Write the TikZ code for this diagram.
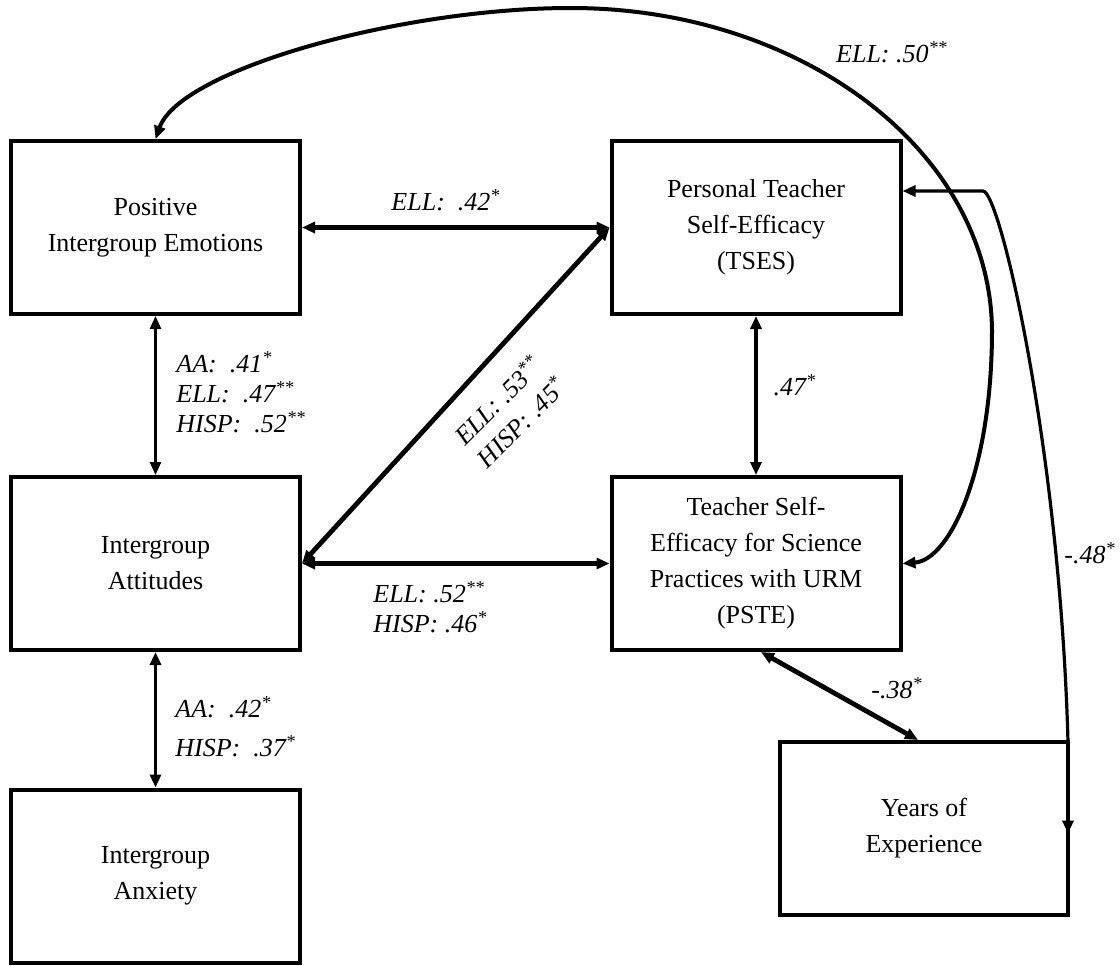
\documentclass[tikz,border=0pt]{standalone}
\usepackage{fontspec}
\setmainfont{Liberation Serif}
\usetikzlibrary{arrows.meta,calc}
\begin{document}
\begin{tikzpicture}[x=0.5pt,y=-0.5pt,
  box/.style={draw,line width=2pt,minimum width=144.5pt,minimum height=86.5pt,
    align=center,inner sep=0pt,font=\fontsize{13}{18}\selectfont},
  lbl/.style={inner sep=0pt,font=\fontsize{13}{15}\selectfont\itshape},
  both/.style={arrows={Triangle[length=6.5pt,width=5.5pt]-Triangle[length=6.5pt,width=5.5pt]}},
  thinlink/.style={both,line width=1.3pt},
  midlink/.style={both,line width=1.6pt},
  thicklink/.style={both,line width=2.2pt}]
\useasboundingbox (0,0) rectangle (1120,965);

% constructs
\node[box] (pie)  at (155.5,227.5) {Positive\\Intergroup Emotions};
\node[box] (tses) at (756,227.5)   {Personal Teacher\\Self-Efficacy\\(TSES)};
\node[box] (ia)   at (155.5,563.5) {Intergroup\\Attitudes};
\node[box] (pste) at (756,563.5)   {Teacher Self-\\Efficacy for Science\\Practices with URM\\(PSTE)};
\node[box] (anx)  at (155.5,876)   {Intergroup\\Anxiety};
\node[box,minimum width=144pt] (yoe) at (924,828.5) {Years of\\Experience};

% waypoints of the curved links
\coordinate (arcTop)   at (571,8);
\coordinate (arcRight) at (992,330);
\coordinate (bendA)    at (983,191);

% straight correlations
\draw[thinlink]  (pie.south) -- (ia.north);
\draw[thicklink] (pie.east) -- (tses.west);
\draw[thicklink] (ia.east) -- (pste.west);
\draw[midlink]   (tses.south) -- (pste.north);
\draw[midlink]   (ia.south) -- (anx.north);
\draw[thicklink,line width=2.4pt] (ia.east) -- (tses.west);
\draw[thicklink,line width=2.4pt] ($(pste.south)+(5,0)$) -- ($(yoe.north)+(-6,0)$);

% long arc from PSTE back to positive emotions
\draw[thicklink,line width=2pt] (pie.north) .. controls (180,70) and (400,8) .. (arcTop)
  .. controls (800,8) and (990,150) .. (arcRight)
  .. controls (992,470) and (950,560) .. (pste.east);

% TSES to years of experience
\draw[midlink] ($(tses.east)+(0,-36.5)$) -- (bendA)
  .. controls (1000,191) and (1060,450) .. ($(yoe.north east)+(-2,2)$)
  -- ($(yoe.east)+(-2,5)$);

% coefficients
\node[lbl] (l50) at (892,52) {ELL: .50\textsuperscript{**}};
\node[lbl] (l42) at (446,200) {ELL:\ \ .42\textsuperscript{*}};
\node[lbl,anchor=west,align=left] (l41) at (176,392)
  {AA:\ \ .41\textsuperscript{*}\\ELL:\ \ .47\textsuperscript{**}\\HISP:\ \ .52\textsuperscript{**}};
\node[lbl,rotate=45,anchor=west,align=left,font=\fontsize{13}{16}\selectfont\itshape] (l53) at (469,451)
  {ELL: .53\textsuperscript{**}\\HISP: .45\textsuperscript{*}};
\node[lbl] (l47) at (795,385) {.47\textsuperscript{*}};
\node[lbl,anchor=west,align=left] (l52) at (373,607)
  {ELL: .52\textsuperscript{**}\\HISP: .46\textsuperscript{*}};
\node[lbl,anchor=west,align=left,font=\fontsize{13}{19.5}\selectfont\itshape] (l42b) at (175,727)
  {AA:\ \ .42\textsuperscript{*}\\HISP:\ \ .37\textsuperscript{*}};
\node[lbl] (l38) at (897,688) {-.38\textsuperscript{*}};
\node[lbl] (l48) at (1090,553) {-.48\textsuperscript{*}};
\end{tikzpicture}
\end{document}
